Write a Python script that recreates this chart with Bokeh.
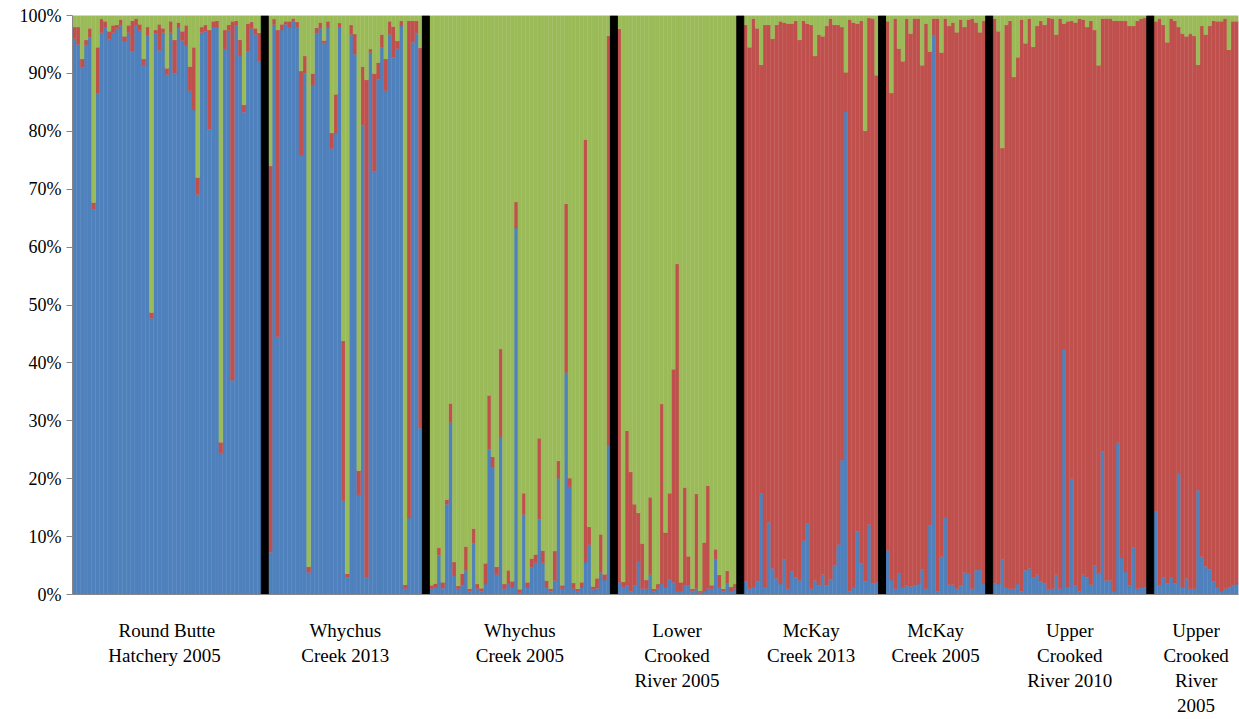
from bokeh.plotting import figure
from bokeh.models import Range1d, FixedTicker, Span, ColumnDataSource
from bokeh.embed import file_html
from bokeh.resources import INLINE

# ---------------- data (membership %, per individual) ----------------
group_labels = [
    "Round Butte\nHatchery  2005",
    "Whychus\nCreek 2013",
    "Whychus\nCreek 2005",
    "Lower\nCrooked\nRiver 2005",
    "McKay\nCreek 2013",
    "McKay\nCreek 2005",
    "Upper\nCrooked\nRiver 2010",
    "Upper\nCrooked\nRiver\n2005",
]

g1_blue = [96, 95, 91, 94.8, 96.2, 66.5, 86.5, 97, 98, 95.8, 97, 97.7, 98.3, 95.6, 97, 93.8, 98.3, 97.4, 91.3, 96.5,
           47.7, 96.9, 94, 97, 89.8, 97, 90, 98, 95.7, 94.9, 87, 83.7, 69.1, 97, 97.3, 80.3, 98, 98, 24.3, 94.1,
           97.4, 37, 98.3, 93, 83.3, 93.8, 97.7, 96.7, 92]
g1_red = [2, 3, 1.5, 1, 1.6, 1.2, 8, 2.4, 1, 1.5, 1.3, 0.7, 1, 0.8, 1.3, 5.3, 1.2, 1.1, 1.2, 1.5,
          1, 0.6, 4.5, 0.8, 1.1, 2, 5.8, 0.8, 1.6, 3.4, 4.2, 10.8, 2.9, 1, 1.1, 17.2, 1, 1.1, 2, 3.4,
          1, 62, 0.8, 2.8, 1.3, 4.8, 1.2, 1.1, 5]

g2_blue = [7.3, 98.4, 44.5, 97.5, 98.5, 98, 99, 97.9, 75.9, 90, 3.8, 88, 96.9, 97.8, 95.1, 98, 77, 79.7, 97.9, 16.2,
           3, 96.7, 93.3, 17.2, 81, 2.9, 93.6, 73, 89, 94.5, 87, 96.7, 92.8, 94.3, 98.2, 1, 13.2, 95.4, 96.9, 28.7]
g2_red = [66.7, 1, 53, 1, 0.5, 1, 0.5, 1, 14.5, 3, 1, 2, 1, 1, 0.6, 1, 2.7, 6.7, 0.8, 27.6,
          0.6, 1.7, 3.5, 4.2, 10.2, 86, 0.6, 17, 2.9, 2.2, 5.5, 2.3, 5.3, 1.3, 0.9, 0.7, 85.9, 3.7, 2.2, 65.7]

g3_blue = [1, 1.3, 6.8, 1.1, 15.6, 29.7, 3.2, 1, 1.6, 4.2, 0.5, 8.8, 1, 0.5, 1.8, 25.1, 22, 3.4, 27.1, 1,
           2, 1.3, 63.3, 0.3, 13.8, 1.3, 4.7, 5.5, 13, 5.5, 1.3, 0.5, 2.4, 20.1, 1, 38.3, 18.6, 1, 0.5, 1.3,
           5.6, 8.6, 0.8, 1.1, 3.8, 2.5, 25.8]
g3_red = [0.6, 0.6, 1.3, 1, 0.8, 3.3, 2.4, 0.5, 2, 4.1, 0.5, 2.6, 0.8, 0.6, 3.6, 9.3, 1.8, 1.4, 15.3, 0.8,
          2.2, 1, 4.5, 0.6, 3.7, 0.8, 1.5, 1.4, 14, 2.1, 1.1, 0.5, 5.1, 3, 0.6, 29.2, 1.5, 1, 0.5, 0.8,
          73, 3.1, 0.6, 1.7, 6.6, 1, 70.7]

g4_blue = [2.1, 1.2, 1.6, 0.5, 1.6, 5.8, 1, 1, 3.4, 0.5, 1, 1.8, 1.3, 2.6, 2.1, 0.6, 0.6, 1.6, 1.6, 0.5,
           1, 0.3, 0.6, 1, 1, 6, 1.3, 0.5, 1.9, 0.6, 1]
g4_red = [95.6, 1, 26.7, 20.7, 14, 8.3, 7.8, 1.5, 13.4, 0.5, 0.8, 31.1, 9.4, 14.9, 36.8, 56.5, 1.5, 16.9, 5, 0.5,
          16.4, 0.3, 8.4, 17.8, 0.6, 1.8, 2.1, 0.5, 2.2, 0.7, 0.8]

g5_blue = [2.3, 1, 1.3, 2.3, 17.5, 1.3, 12.5, 4.5, 2.8, 1.8, 6, 1, 4, 3, 2.4, 9.3, 12.3, 1, 2.4, 1.6,
           3.4, 1.6, 2.6, 5, 8.6, 23.2, 83.5, 0.5, 1.3, 10.9, 5.4, 2.3, 12.1, 1.9, 2.1]
g5_red = [96.1, 93.5, 98.2, 95.5, 74, 97.1, 85.9, 91.5, 95.6, 97.2, 92.8, 97.6, 94.6, 96.1, 93.4, 89.8, 86.3, 97.4,
          90.6, 95.1, 93, 96.6, 96.9, 93.4, 89.8, 74.8, 6.7, 98.8, 97.5, 87.7, 93.7, 77.8, 87.5, 97.6, 87.6]

g6_blue = [7.6, 2.5, 1, 3.6, 1.3, 1.6, 1.4, 1.6, 1.8, 4.3, 1, 11.9, 96.5, 0.5, 6.5, 13.4, 1.7, 1.7, 1, 1.6,
           3.8, 3.6, 1, 4.2, 4.4, 1.8]
g6_red = [91.4, 84.1, 98.5, 90.7, 90.8, 97.9, 95.5, 97.9, 97.7, 87.1, 97.6, 81.9, 3, 99, 87.1, 86.1, 96.5, 97.1,
          96.1, 97.7, 94.2, 95.7, 98.5, 94.6, 92.7, 97.3]

g7_blue = [1.9, 1.8, 6, 1.3, 1, 1, 1.8, 0.5, 4.2, 4.5, 2.9, 3.4, 2.3, 1.9, 0.8, 1, 3.4, 1, 42.4, 1.3,
           20, 1.5, 0.5, 3.4, 3, 1.7, 5, 3.6, 24.7, 2.4, 2.4, 0.6, 26.2, 6.3, 3.9, 1.5, 8.1, 1, 1.3, 1.2]
g7_red = [97.6, 95.5, 71.1, 97.1, 98.1, 88.4, 91, 98.8, 91, 95, 91.7, 94.8, 96.8, 96.5, 98.8, 98.5, 93.3, 98.5,
          56.2, 97.7, 79.1, 97.3, 99, 95.9, 95, 97.4, 92.5, 87.8, 74.8, 97.1, 97.1, 98.5, 72.9, 92.8, 95.2, 96.7,
          90.1, 98.1, 98.2, 98.4]

g8_blue = [14.3, 1.5, 2.9, 1.9, 2.9, 1.9, 21, 1.3, 2.8, 1, 1, 18, 6.5, 4.9, 4.3, 2.3, 1.3, 0.6, 1, 1.2, 1.5, 1.8]
g8_red = [84.7, 98, 95.5, 93.5, 96.6, 97.2, 77, 95.6, 93.6, 95.9, 95.5, 73.5, 91.7, 91.8, 93.9, 96.8, 97.7, 98.4,
          98.5, 92.9, 97.5, 97.2]

blues = [g1_blue, g2_blue, g3_blue, g4_blue, g5_blue, g6_blue, g7_blue, g8_blue]
reds = [g1_red, g2_red, g3_red, g4_red, g5_red, g6_red, g7_red, g8_red]

# ---------------- layout ----------------
SEP = 1.8
xs, b_top, r_top = [], [], []
sep_x, centers = [], []
cur = 0.0
for gi, (bl, rd) in enumerate(zip(blues, reds)):
    start = cur
    for b, r in zip(bl, rd):
        xs.append(cur + 0.5)
        b_top.append(b)
        r_top.append(min(100.0, b + r))
        cur += 1
    centers.append(round((start + cur) / 2, 2))
    if gi < len(blues) - 1:
        sep_x.append(cur + SEP / 2)
        cur += SEP
total = cur

src = ColumnDataSource(dict(x=xs, zero=[0] * len(xs), b=b_top, r=r_top, top=[100] * len(xs)))

W, H = 1239, 719
p = figure(width=W, height=H, output_backend="svg", toolbar_location=None,
           x_range=Range1d(0, total), y_range=Range1d(0, 100),
           min_border_left=72, min_border_right=1, min_border_top=15, min_border_bottom=H - 595)
p.background_fill_color = "white"
p.border_fill_color = "white"
p.outline_line_color = None
p.xgrid.visible = False
p.ygrid.visible = False

BLUE, RED, GREEN = "#4F81BD", "#C0504D", "#9BBB59"
p.vbar(x="x", width=1.0, bottom="zero", top="b", source=src, fill_color=BLUE, line_color=BLUE, line_width=0.4)
p.vbar(x="x", width=1.0, bottom="b", top="r", source=src, fill_color=RED, line_color=RED, line_width=0.4)
p.vbar(x="x", width=1.0, bottom="r", top="top", source=src, fill_color=GREEN, line_color=GREEN, line_width=0.4)
p.vbar(x=sep_x, width=SEP, bottom=0, top=100, fill_color="black", line_color="black")

p.add_layout(Span(location=100, dimension="width", line_color="#D0D0D0", line_width=1))

ticks = list(range(0, 101, 10))
p.yaxis.ticker = FixedTicker(ticks=ticks)
p.yaxis.major_label_overrides = {t: f"{t}%" for t in ticks}
p.yaxis.major_label_text_font = "Liberation Serif"
p.yaxis.major_label_text_font_size = "18px"
p.yaxis.major_label_text_color = "#000000"
p.yaxis.axis_line_color = "#868686"
p.yaxis.major_tick_line_color = "#868686"
p.yaxis.major_tick_out = 6
p.yaxis.major_tick_in = 0
p.yaxis.minor_tick_line_color = None
p.yaxis.major_label_standoff = 5

# group names as multi-line tick labels of the bottom axis
p.xaxis.ticker = FixedTicker(ticks=centers)
p.xaxis.major_label_overrides = {c: lab for c, lab in zip(centers, group_labels)}
p.xaxis.major_label_text_font = "Liberation Serif"
p.xaxis.major_label_text_font_size = "19px"
p.xaxis.major_label_text_color = "#000000"
p.xaxis.major_label_text_line_height = 1.2
p.xaxis.axis_line_color = "#868686"
p.xaxis.major_tick_line_color = None
p.xaxis.major_tick_out = 0
p.xaxis.major_tick_in = 0
p.xaxis.minor_tick_line_color = None
p.xaxis.major_label_standoff = 25

open("out.html", "w").write(file_html(p, INLINE))
